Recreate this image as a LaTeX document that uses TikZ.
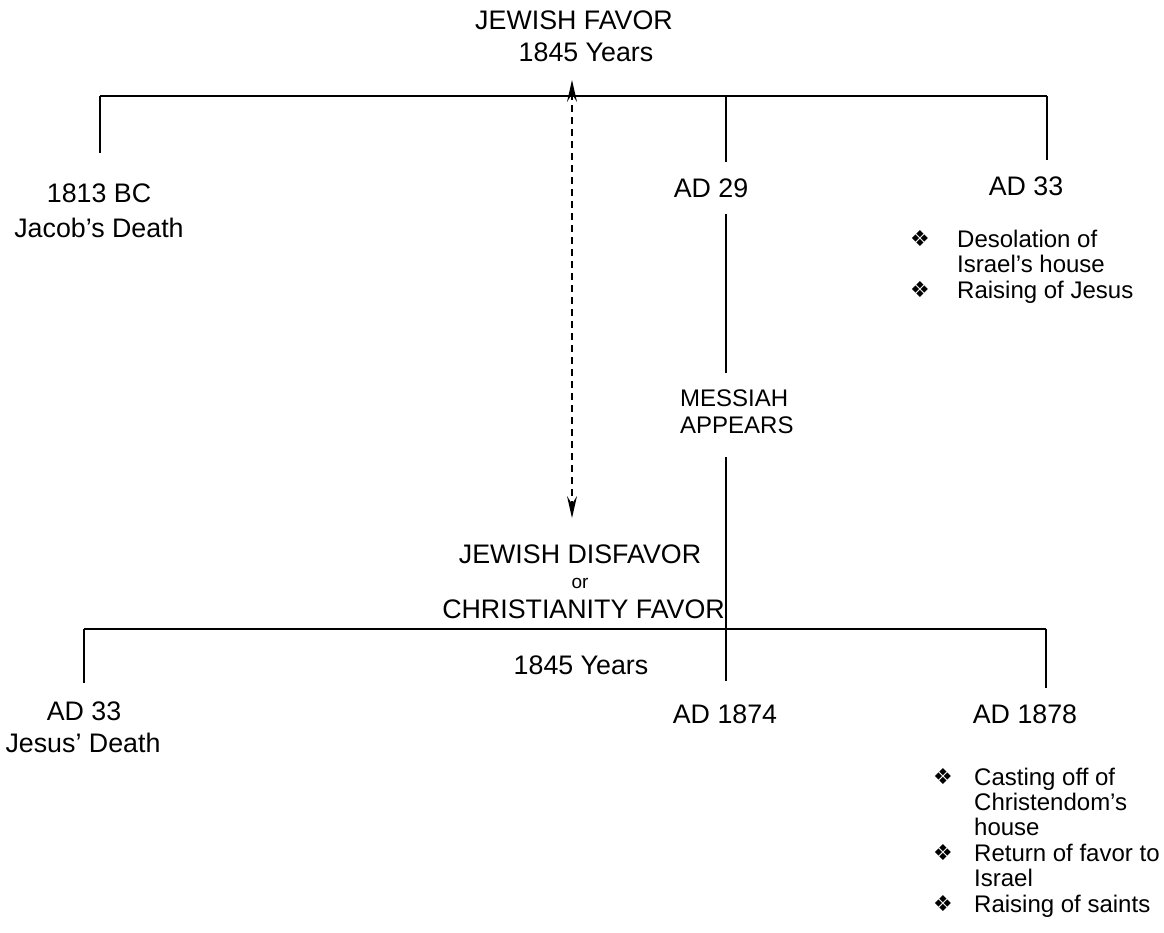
\documentclass[tikz,border=0pt]{standalone}
\usepackage{fontspec}
\setmainfont{Liberation Sans}
\newfontfamily\symfont{DejaVu Sans}
\usetikzlibrary{arrows.meta}
\begin{document}
\begin{tikzpicture}[x=1pt,y=-1pt,
  big/.style={font=\fontsize{26.8}{30}\selectfont, inner sep=0pt, anchor=base},
  small/.style={font=\fontsize{24}{28}\selectfont, inner sep=0pt, anchor=base west},
  tiny/.style={font=\fontsize{19}{22}\selectfont, inner sep=0pt, anchor=base},
  bul/.style={font=\symfont\fontsize{22}{24}\selectfont, inner sep=0pt, anchor=base},
  rule/.style={line width=1.7pt},
  dasharrow/.style={line width=1.6pt, dash pattern=on 7pt off 5pt,
    {Stealth[length=22pt,width=10pt,inset=8pt]}-{Stealth[length=22pt,width=10pt,inset=8pt]}},
  ]
\useasboundingbox (0,0) rectangle (1164,932);

% ---------- coordinates of the time lines ----------
\coordinate (tL) at (100,96);
\coordinate (tM) at (726,96);
\coordinate (tR) at (1047,96);
\coordinate (tLd) at (100,153);
\coordinate (tMd) at (726,162);
\coordinate (tRd) at (1047,160);
\coordinate (mA) at (726,214);
\coordinate (mB) at (726,373);
\coordinate (mC) at (726,457);
\coordinate (mD) at (726,681);
\coordinate (bL) at (84,629);
\coordinate (bR) at (1046,629);
\coordinate (bLd) at (84,683);
\coordinate (bRd) at (1046,688);
\coordinate (arrTop) at (572,80);
\coordinate (arrBot) at (572,518);

% ---------- lines ----------
\draw[rule] (tL) -- (tR);
\draw[rule] (tL) -- (tLd);
\draw[rule] (tM) -- (tMd);
\draw[rule] (tR) -- (tRd);
\draw[rule] (mA) -- (mB);
\draw[rule] (mC) -- (mD);
\draw[rule] (bL) -- (bR);
\draw[rule] (bL) -- (bLd);
\draw[rule] (bR) -- (bRd);
\draw[dasharrow] (arrTop) -- (arrBot);

% ---------- top texts ----------
\node[big] (jf) at (574,29.5) {JEWISH FAVOR};
\node[big] (y1) at (586,61.5) {1845 Years};
\node[big] (bc) at (99,202) {1813 BC};
\node[big] (jd) at (99,237.5) {Jacob’s Death};
\node[big] (ad29) at (711,197) {AD 29};
\node[big] (ad33a) at (1026,195) {AD 33};

\node[bul] (b1) at (920,246) {❖};
\node[small] (t1) at (957,247) {Desolation of};
\node[small] (t2) at (957,272.5) {Israel’s house};
\node[bul] (b2) at (920,297) {❖};
\node[small] (t3) at (957,298) {Raising of Jesus};

\node[small] (ms) at (680,406.5) {MESSIAH};
\node[small] (ap) at (680,433.5) {APPEARS};

% ---------- lower texts ----------
\node[big] (jdf) at (580,563.5) {JEWISH DISFAVOR};
\node[tiny] (or) at (580,588) {or};
\node[big] (cf) at (583.5,618) {CHRISTIANITY FAVOR};
\node[big] (y2) at (581,674) {1845 Years};
\node[big] (ad33b) at (84,720) {AD 33};
\node[big] (jsd) at (83,752) {Jesus’ Death};
\node[big] (ad1874) at (725,723) {AD 1874};
\node[big] (ad1878) at (1025,723) {AD 1878};

\node[bul] (c1) at (943,784) {❖};
\node[small] (u1) at (974,785) {Casting off of};
\node[small] (u2) at (974,810.4) {Christendom’s};
\node[small] (u3) at (974,835.8) {house};
\node[bul] (c2) at (943,860.2) {❖};
\node[small] (u4) at (974,861.2) {Return of favor to};
\node[small] (u5) at (974,886.6) {Israel};
\node[bul] (c3) at (943,911) {❖};
\node[small] (u6) at (974,912) {Raising of saints};
\end{tikzpicture}
\end{document}
